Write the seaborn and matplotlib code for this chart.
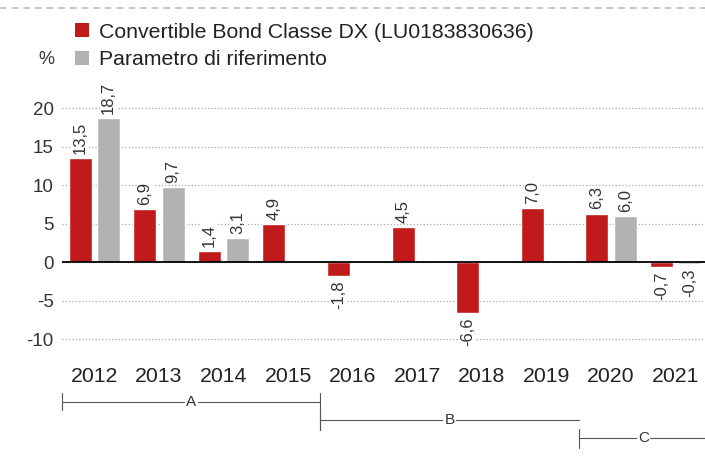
import numpy as np
import pandas as pd
import seaborn as sns
import matplotlib.pyplot as plt
from matplotlib.patches import Patch
from matplotlib.lines import Line2D
from matplotlib.transforms import blended_transform_factory

years = ['2012', '2013', '2014', '2015', '2016', '2017', '2018', '2019', '2020', '2021']
fund = [13.5, 6.9, 1.4, 4.9, -1.8, 4.5, -6.6, 7.0, 6.3, -0.7]
bench = [18.7, 9.7, 3.1, np.nan, np.nan, np.nan, np.nan, np.nan, 6.0, -0.3]
series_names = ['Convertible Bond Classe DX (LU0183830636)', 'Parametro di riferimento']
colors = ['#c11a1a', '#b1b2b4']

# periodi sotto l'asse: (etichetta, primo anno, ultimo anno)
periods = [('A', 0, 3), ('B', 4, 7), ('C', 8, 9)]

sns.set_style('white')
plt.rcParams['font.family'] = ['Liberation Sans', 'DejaVu Sans']
plt.rcParams['axes.unicode_minus'] = False

df = pd.DataFrame({
    'anno': years * 2,
    'valore': fund + bench,
    'serie': [series_names[0]] * len(years) + [series_names[1]] * len(years),
}).dropna()

fig = plt.figure(figsize=(7.05, 4.58), dpi=100)
ax = fig.add_axes([62 / 705, 0.226, 646 / 705, 0.555])

sns.barplot(data=df, x='anno', y='valore', hue='serie', order=years,
            hue_order=series_names, palette=colors, width=0.88, gap=0.19,
            errorbar=None, saturation=1, legend=False, ax=ax)

for cont in ax.containers:
    labs = [f'{v:.1f}'.replace('.', ',') for v in cont.datavalues]
    ax.bar_label(cont, labels=labs, padding=3, rotation=90, fontsize=12,
                 color='#333333',
                 bbox=dict(facecolor='white', edgecolor='none', pad=0.5))

ax.set_xlim(-0.5, 9.5)
ax.set_ylim(-12, 21)
ax.set_yticks([-10, -5, 0, 5, 10, 15, 20])
ax.set_xlabel('')
ax.set_ylabel('')
ax.yaxis.grid(True, linestyle=':', color='#aaaaaa', linewidth=0.9)
ax.set_axisbelow(True)
ax.axhline(0, color='black', linewidth=1.3, zorder=1)
sns.despine(ax=ax, left=True, bottom=True)
ax.tick_params(axis='y', length=0, pad=6, labelsize=13.5, labelcolor='#333333')
ax.tick_params(axis='x', length=0, pad=9, labelsize=15.3, labelcolor='#222222')

fig.text(46 / 705, 1 - 60 / 458, '%', ha='center', va='center', fontsize=13, color='#333333')

handles = [Patch(facecolor=c, edgecolor='none') for c in colors]
fig.legend(handles, series_names, loc='upper left', bbox_to_anchor=(75 / 705, 1 - 22.5 / 458),
           frameon=False, fontsize=15.3, handlelength=0.66, handleheight=0.66,
           handletextpad=0.45, labelspacing=0.42, borderpad=0, borderaxespad=0,
           labelcolor='#222222')

# linea tratteggiata in alto
fig.add_artist(Line2D([0, 1], [1 - 8 / 458, 1 - 8 / 458], transform=fig.transFigure,
                      color='#bbbbbb', linewidth=1.2, linestyle=(0, (4, 3))))

# parentesi dei periodi
tr = blended_transform_factory(ax.transData, fig.transFigure)
line_y = [402, 420, 438]
for i, (lab, a, b) in enumerate(periods):
    y = 1 - line_y[i] / 458
    x0, x1 = a - 0.5, b + 0.5
    ax.plot([x0, x1], [y, y], transform=tr, color='#555555', linewidth=0.8, clip_on=False)
    ax.plot([x0, x0], [y + 9 / 458, y - (10 if i > 0 else 8) / 458], transform=tr,
            color='#555555', linewidth=0.8, clip_on=False)
    ax.text((x0 + x1) / 2, y, lab, transform=tr, ha='center', va='center', fontsize=11,
            color='#333333', bbox=dict(facecolor='white', edgecolor='none', pad=1))
ax.plot([3.5, 3.5], [1 - 393 / 458, 1 - 430 / 458], transform=tr, color='#555555',
        linewidth=0.8, clip_on=False)

fig.savefig('out.png', dpi=100)
